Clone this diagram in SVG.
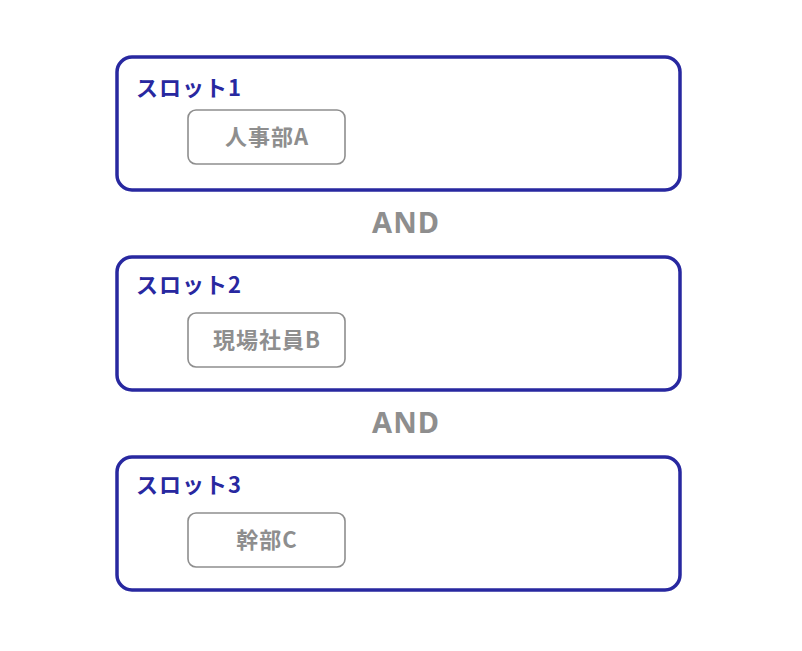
<svg xmlns="http://www.w3.org/2000/svg" width="802" height="651" viewBox="0 0 802 651">
<style>
.slot{fill:#fff;stroke:#2828a0;stroke-width:3.5}
.slabel{font-family:"Noto Sans CJK JP","Noto Sans",sans-serif;font-weight:bold;font-size:22px;letter-spacing:1px;fill:#2828a0}
.item{fill:#fff;stroke:#8e8e8e;stroke-width:1.6}
.ilabel{font-family:"Noto Sans CJK JP","Noto Sans",sans-serif;font-weight:bold;font-size:22px;letter-spacing:1px;fill:#8e8e8e;text-anchor:middle}
.and{font-family:"Noto Sans","Liberation Sans",sans-serif;font-weight:bold;font-size:29px;letter-spacing:1px;fill:#8e8e8e;text-anchor:middle}
</style>
<rect width="802" height="651" fill="#fff"/>
<g id="slot1">
<rect class="slot" x="117" y="57" width="563" height="133" rx="15"/>
<text class="slabel" x="136" y="95.5">スロット1</text>
</g>
<g id="nodeA">
<rect class="item" x="188" y="110" width="157" height="54" rx="8"/>
<text class="ilabel" x="267" y="145">人事部A</text>
</g>
<g id="slot2">
<rect class="slot" x="117" y="257" width="563" height="133" rx="15"/>
<text class="slabel" x="136" y="293">スロット2</text>
</g>
<g id="nodeB">
<rect class="item" x="188" y="313" width="157" height="54" rx="8"/>
<text class="ilabel" x="267" y="347.5">現場社員B</text>
</g>
<g id="slot3">
<rect class="slot" x="117" y="457" width="563" height="133" rx="15"/>
<text class="slabel" x="136" y="493">スロット3</text>
</g>
<g id="nodeC">
<rect class="item" x="188" y="513" width="157" height="54" rx="8"/>
<text class="ilabel" x="267" y="547.5">幹部C</text>
</g>
<g id="connectors">
<text class="and" x="406" y="233">AND</text>
<text class="and" x="406" y="433">AND</text>
</g>
</svg>
